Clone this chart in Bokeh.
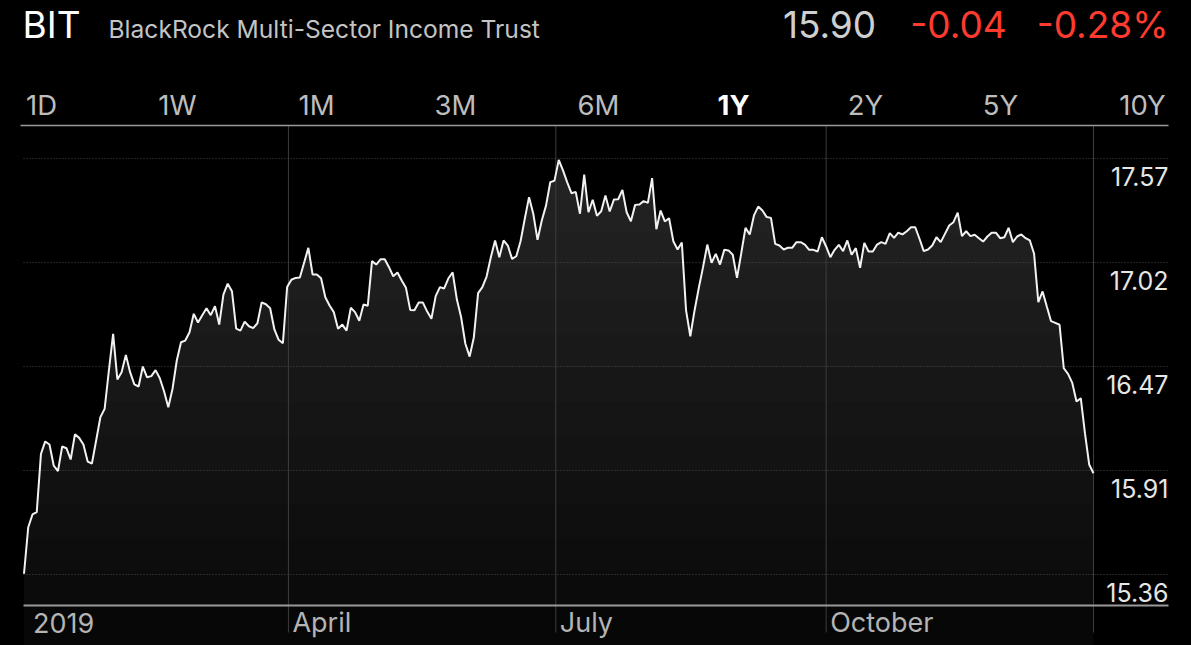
import numpy as np
import pandas as pd
from bokeh.plotting import figure
from bokeh.models import ColumnDataSource, Range1d, GlobalInlineStyleSheet
from bokeh.core.properties import value
from bokeh.embed import file_html
from bokeh.resources import INLINE

# ---------------- data ----------------
ticker = "BIT"
company = "BlackRock Multi-Sector Income Trust"
last_price = "15.90"
change_abs = "-0.04"
change_pct = "-0.28%"

range_tabs = ["1D", "1W", "1M", "3M", "6M", "1Y", "2Y", "5Y", "10Y"]
selected_tab = "1Y"

month_labels = ["2019", "April", "July", "October"]
month_dates = ["2019-01-01", "2019-04-01", "2019-07-01", "2019-10-01"]
period_start = "2019-01-01"
period_end = "2019-12-31"

y_tick_values = [15.36, 15.9125, 16.465, 17.0175, 17.57]
y_tick_labels = ["15.36", "15.91", "16.47", "17.02", "17.57"]

prices_q1 = [15.364, 15.611, 15.679, 15.691, 16.001, 16.067, 16.051, 15.939, 15.909, 16.040,
             16.031, 15.971, 16.105, 16.086, 16.051, 15.960, 15.950, 16.072, 16.196, 16.240,
             16.444, 16.639, 16.396, 16.435, 16.527, 16.435, 16.370, 16.359, 16.465, 16.408,
             16.414, 16.446, 16.403, 16.334, 16.249, 16.347, 16.497, 16.594, 16.603, 16.647,
             16.745, 16.699, 16.738, 16.775, 16.738, 16.786, 16.688, 16.848, 16.905, 16.865,
             16.666, 16.656, 16.704, 16.679, 16.669, 16.695, 16.805, 16.796, 16.775, 16.662,
             16.607, 16.589, 16.887]
prices_q2 = [16.926, 16.936, 16.938, 17.016, 17.096, 16.954, 16.954, 16.934, 16.833, 16.789,
             16.754, 16.666, 16.688, 16.656, 16.777, 16.754, 16.708, 16.795, 16.788, 17.025,
             17.007, 17.035, 17.035, 16.993, 16.945, 16.965, 16.922, 16.883, 16.766, 16.764,
             16.805, 16.805, 16.757, 16.719, 16.839, 16.887, 16.880, 16.934, 16.965, 16.821,
             16.727, 16.586, 16.518, 16.621, 16.855, 16.887, 16.943, 17.046, 17.135, 17.046,
             17.135, 17.108, 17.037, 17.051, 17.131, 17.250, 17.365, 17.277, 17.138, 17.241,
             17.320]
prices_q3 = [17.444, 17.453, 17.563, 17.507, 17.444, 17.386, 17.393, 17.277, 17.485, 17.285,
             17.351, 17.266, 17.290, 17.374, 17.289, 17.352, 17.354, 17.404, 17.285, 17.237,
             17.324, 17.326, 17.344, 17.335, 17.466, 17.195, 17.294, 17.236, 17.253, 17.131,
             17.087, 17.124, 16.763, 16.626, 16.763, 16.883, 16.993, 17.113, 17.016, 17.064,
             17.007, 17.085, 17.082, 17.059, 16.936, 17.067, 17.202, 17.167, 17.268, 17.315,
             17.294, 17.259, 17.255, 17.117, 17.108, 17.087, 17.096, 17.096, 17.126, 17.126,
             17.113, 17.085, 17.085, 17.076]
prices_q4 = [17.152, 17.103, 17.046, 17.085, 17.112, 17.078, 17.135, 17.059, 17.094, 16.990,
             17.122, 17.076, 17.076, 17.113, 17.126, 17.117, 17.174, 17.149, 17.176, 17.167,
             17.184, 17.205, 17.205, 17.144, 17.078, 17.087, 17.108, 17.152, 17.126, 17.170,
             17.214, 17.232, 17.283, 17.158, 17.184, 17.158, 17.165, 17.147, 17.129, 17.156,
             17.176, 17.176, 17.147, 17.152, 17.202, 17.126, 17.156, 17.167, 17.147, 17.135,
             17.064, 16.807, 16.864, 16.784, 16.706, 16.697, 16.687, 16.456, 16.426, 16.378,
             16.279, 16.297, 16.108, 15.943, 15.898]

# ---------------- layout (pixels of the 1191x645 page) ----------------
W, H, MARGIN = 1191, 645, 0
X0_PX, X1_PX = 23.5, 1093.0          # period start / end
REF_PX, REF_VAL, PX_PER_UNIT = 574.0, 15.36, 188.2

t0 = pd.Timestamp(period_start)
span_days = (pd.Timestamp(period_end) - t0).days
px_per_day = (X1_PX - X0_PX) / span_days

def X(px):
    return (px - X0_PX) / px_per_day

def Y(py):
    return REF_VAL + (REF_PX - py) / PX_PER_UNIT

def day(d):
    return (pd.Timestamp(d) - t0).days

prices = np.array(prices_q1 + prices_q2 + prices_q3 + prices_q4)
xs = np.linspace(0, span_days, len(prices))

p = figure(width=W, height=H, output_backend="svg", toolbar_location=None,
           x_range=Range1d(X(MARGIN), X(MARGIN + W)),
           y_range=Range1d(Y(MARGIN + H), Y(MARGIN)),
           min_border=0, background_fill_color="#000000", border_fill_color="#000000",
           outline_line_color=None)
p.axis.visible = False
p.grid.visible = False
p.stylesheets = [GlobalInlineStyleSheet(css="html, body { background: #000000; }")]

FONT = value("Inter")
base = Y(605)

# dark strip under the axis line
p.quad(left=[0], right=[span_days], bottom=[Y(650)], top=[base],
       fill_color="#070707", line_color=None)

# area fill with vertical gradient (stacked translucent layers)
src = ColumnDataSource(dict(x=xs, y=prices))
p.varea(x=xs, y1=np.full_like(prices, base), y2=prices, fill_color="#0b0b0b")
levels = np.linspace(base, Y(165), 14)
for lv in levels[1:]:
    p.varea(x=xs, y1=np.minimum(prices, lv), y2=prices, fill_color="#ffffff", fill_alpha=0.013)

# dotted horizontal grid
p.segment(x0=[X(23)] * len(y_tick_values), x1=[X(1168)] * len(y_tick_values),
          y0=y_tick_values, y1=y_tick_values, line_color="#4a4a4a", line_width=1,
          line_dash="1 2")

# vertical month separators + end line
vx = [day(d) for d in month_dates[1:]] + [span_days]
p.segment(x0=vx, x1=vx, y0=[Y(125)] * len(vx), y1=[Y(632)] * len(vx),
          line_color="#3d3d3d", line_width=1)

# top separator and bottom axis line
p.segment(x0=[X(20)], x1=[X(1168)], y0=[Y(125)], y1=[Y(125)], line_color="#9a9a9a", line_width=1.5)
p.segment(x0=[X(23)], x1=[X(1168)], y0=[Y(605)], y1=[Y(605)], line_color="#9a9a9a", line_width=2)

# price line
p.line("x", "y", source=src, line_color="#f2f2f2", line_width=2)

# y tick labels
p.text(x=[X(1168)] * len(y_tick_values), y=y_tick_values, text=y_tick_labels,
       y_offset=18, text_align="right", text_baseline="middle",
       text_font=FONT, text_font_size="25px", text_color="#e6e6e6")

# x labels
x_off = [9, 4, 4, 4]
p.text(x=[day(d) for d in month_dates], y=[Y(622)] * len(month_labels), text=month_labels,
       x_offset=x_off, text_align="left", text_baseline="middle",
       text_font=FONT, text_font_size="27px", text_color="#b4b4b4")

# header
p.text(x=[X(22)], y=[Y(24)], text=[ticker], text_align="left", text_baseline="middle",
       text_font=FONT, text_font_size="37px", text_color="#ffffff")
p.text(x=[X(108)], y=[Y(28.5)], text=[company], text_align="left", text_baseline="middle",
       text_font=FONT, text_font_size="24.6px", text_color="#c4c4c4")
p.text(x=[X(829)], y=[Y(24)], text=[last_price], text_align="center", text_baseline="middle",
       text_font=FONT, text_font_size="37px", text_color="#cfcfcf")
p.text(x=[X(958)], y=[Y(24)], text=[change_abs], text_align="center", text_baseline="middle",
       text_font=FONT, text_font_size="37px", text_color="#ff3b30")
p.text(x=[X(1168)], y=[Y(24)], text=[change_pct], text_align="right", text_baseline="middle",
       text_font=FONT, text_font_size="37px", text_color="#ff3b30")

# range tabs
tab_centers = [41, 177, 316, 455, 598, 733, 865, 1000, 1142]
normal = [i for i, t in enumerate(range_tabs) if t != selected_tab]
sel = [i for i, t in enumerate(range_tabs) if t == selected_tab]
p.text(x=[X(tab_centers[i]) for i in normal], y=[Y(104)] * len(normal),
       text=[range_tabs[i] for i in normal], text_align="center", text_baseline="middle",
       text_font=FONT, text_font_size="27.5px", text_color="#bdbdbd")
p.text(x=[X(tab_centers[i]) for i in sel], y=[Y(104)] * len(sel),
       text=[range_tabs[i] for i in sel], text_align="center", text_baseline="middle",
       text_font=FONT, text_font_size="27.5px", text_font_style="bold", text_color="#ffffff")

open("out.html", "w").write(file_html(p, INLINE))
